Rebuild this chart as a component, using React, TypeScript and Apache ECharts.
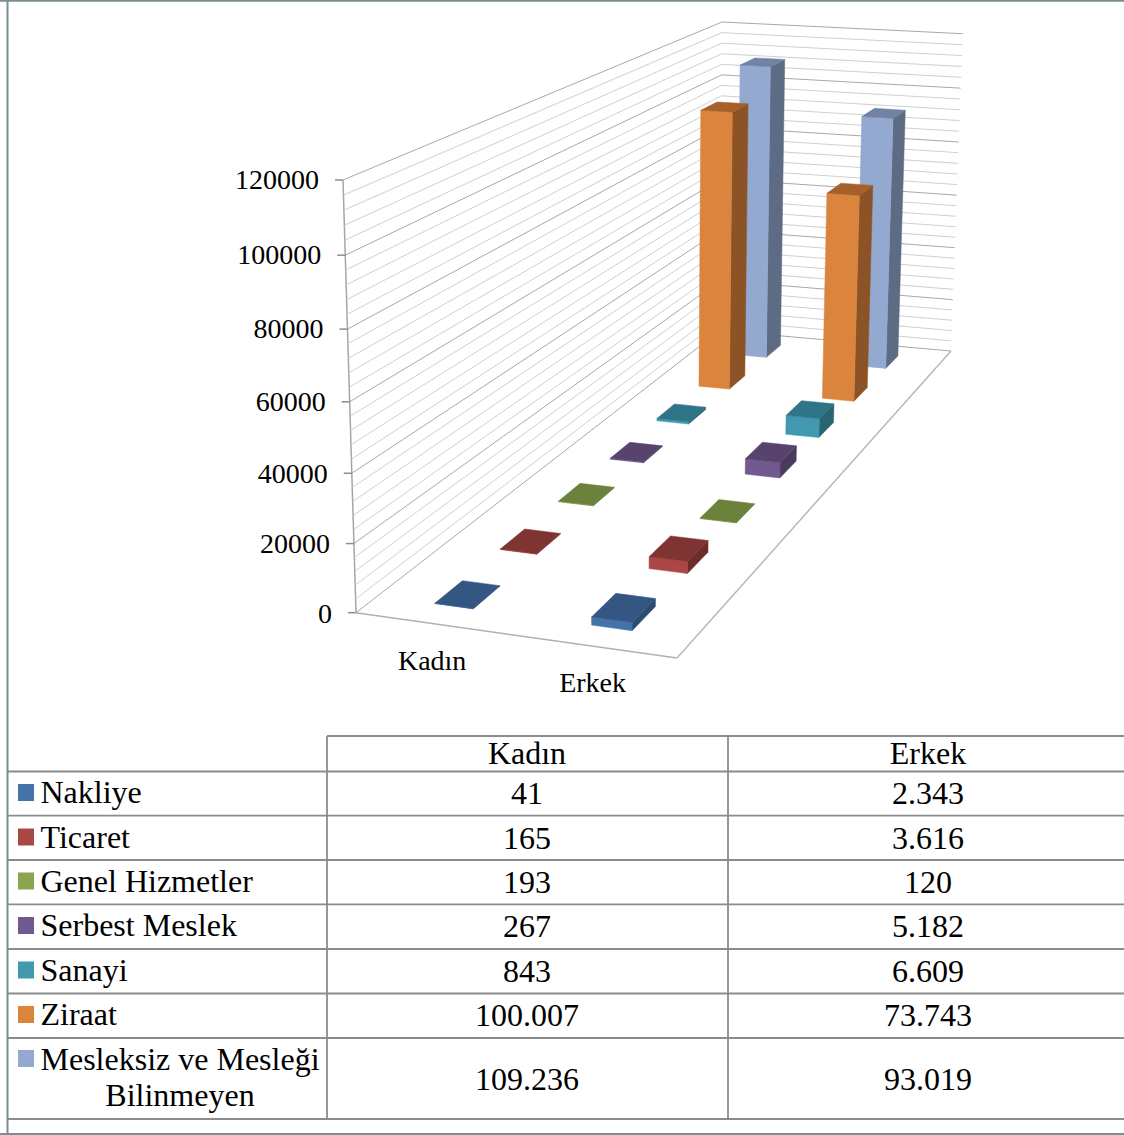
import React, { useEffect, useRef } from "react";
import * as echarts from "echarts";

const categories = ["Kadın", "Erkek"];
const seriesNames = ["Nakliye", "Ticaret", "Genel Hizmetler", "Serbest Meslek", "Sanayi", "Ziraat", "Mesleksiz ve Mesleği\nBilinmeyen"];
const kadinValues = [41, 165, 193, 267, 843, 100007, 109236];
const erkekValues = [2343, 3616, 120, 5182, 6609, 73743, 93019];
const yTickLabels = [0, 20000, 40000, 60000, 80000, 100000, 120000];

const frontColors = ["#4572A7", "#AA4643", "#89A54E", "#71588F", "#4198AF", "#DB843D", "#93A9CF"];
const topColors = ["#345682", "#803432", "#6C823A", "#58436F", "#2F7587", "#A6612B", "#7183A5"];
const sideColors = ["#2D4A70", "#6C2C2A", "#5C6F31", "#4A3A5F", "#296472", "#8C5426", "#5D6B85"];

const SERIF = '"Liberation Serif", "Times New Roman", serif';
const W = 1124;
const H = 1135;

// Perspective set-up: floor corners and top-of-wall corners in pixels
const F0: [number, number] = [356, 612.7];
const F1: [number, number] = [677, 658];
const F2: [number, number] = [951, 351];
const F3: [number, number] = [720, 330.5];
const T0: [number, number] = [343, 180];
const T1: [number, number] = [722, 22];
const T2: [number, number] = [962.7, 33.7];

function makeProjection() {
  const [x0, y0] = F0, [x1, y1] = F1, [x2, y2] = F2, [x3, y3] = F3;
  const dx1 = x1 - x2, dx2 = x3 - x2, dy1 = y1 - y2, dy2 = y3 - y2;
  const sx = x0 - x1 + x2 - x3, sy = y0 - y1 + y2 - y3;
  const den = dx1 * dy2 - dx2 * dy1;
  const g = (sx * dy2 - dx2 * sy) / den;
  const h = (dx1 * sy - sx * dy1) / den;
  const a = x1 - x0 + g * x1, b = x3 - x0 + h * x3;
  const d = y1 - y0 + g * y1, e = y3 - y0 + h * y3;
  const floor = (u: number, v: number) => [a * u + b * v + x0, d * u + e * v + y0, g * u + h * v + 1];
  let sAB = 0, sAA = 0;
  const add = (t: [number, number], u: number, v: number) => {
    const [X, Y, Wf] = floor(u, v);
    const A1 = t[0] - T0[0], B1 = X + T0[0] - x0 - t[0] * Wf;
    const A2 = t[1] - T0[1], B2 = Y + T0[1] - y0 - t[1] * Wf;
    sAB += A1 * B1 + A2 * B2;
    sAA += A1 * A1 + A2 * A2;
  };
  add(T1, 0, 1);
  add(T2, 1, 1);
  const K = sAB / sAA;
  const C = T0[0] * (1 + K) - x0;
  const Fz = T0[1] * (1 + K) - y0;
  const raw = (u: number, v: number, w: number): number[] => {
    const [X, Y, Wf] = floor(u, v);
    const q = Wf + K * w;
    return [(X + C * w) / q, (Y + Fz * w) / q];
  };
  // the residual at the two far top corners is spread over depth and height
  const r1 = raw(0, 1, 1), r2 = raw(1, 1, 1);
  const e1 = [T1[0] - r1[0], T1[1] - r1[1]];
  const e2 = [T2[0] - r2[0], T2[1] - r2[1]];
  return (u: number, v: number, w: number): number[] => {
    const p = raw(u, v, w);
    const k = v * w;
    return [p[0] + k * (e1[0] + (e2[0] - e1[0]) * u), p[1] + k * (e1[1] + (e2[1] - e1[1]) * u)];
  };
}
const project = makeProjection();

const BAR_U = 0.0625;
const BAR_V = 0.029;

const fmt = (n: number) => String(n).replace(/\B(?=(\d{3})+$)/g, ".");

function normalised(params: any, api: any, cat: number, value: number) {
  const cs = params.coordSys;
  const p = api.coord([cat, value]);
  return { u: (p[0] - cs.x) / cs.width, w: (cs.y + cs.height - p[1]) / cs.height };
}

function barRenderer(index: number) {
  return (params: any, api: any) => {
    const { u, w } = normalised(params, api, api.value(0), api.value(1));
    const vc = (index + 0.5) / seriesNames.length;
    const u0 = u - BAR_U, u1 = u + BAR_U;
    const v0 = vc - BAR_V, v1 = vc + BAR_V;
    const poly = (pts: number[][], fill: string) => ({
      type: "polygon",
      shape: { points: pts },
      style: { fill, stroke: fill, lineWidth: 0.5 },
    });
    return {
      type: "group",
      children: [
        poly([project(u1, v0, 0), project(u1, v1, 0), project(u1, v1, w), project(u1, v0, w)], sideColors[index]),
        poly([project(u0, v0, 0), project(u1, v0, 0), project(u1, v0, w), project(u0, v0, w)], frontColors[index]),
        poly([project(u0, v0, w), project(u1, v0, w), project(u1, v1, w), project(u0, v1, w)], topColors[index]),
      ],
    };
  };
}

const wallRenderer = (params: any, api: any) => {
  const value = api.value(1);
  const { w } = normalised(params, api, 0, value);
  const major = yTickLabels.includes(value);
  const color = major ? "#a8a8a8" : "#cfcfcf";
  const a = project(0, 0, w), b = project(0, 1, w), c = project(1, 1, w);
  const line = (p: number[], q: number[], stroke: string, lineWidth = 1) => ({
    type: "line",
    shape: { x1: p[0], y1: p[1], x2: q[0], y2: q[1] },
    style: { stroke, lineWidth },
  });
  const children: any[] = [line(a, b, color), line(b, c, color)];
  if (major) {
    children.push(line([a[0] - 8, a[1]], a, "#8c8c8c", 1.5));
    children.push({
      type: "text",
      style: {
        x: a[0] - 24,
        y: a[1] - 1 + (1 - w) * 1.6,
        text: String(value),
        fontSize: 28,
        fontFamily: SERIF,
        fill: "#000",
        align: "right",
        verticalAlign: "middle",
      },
    });
  }
  if (value === 0) {
    const t = project(0, 0, 1), fr = project(1, 0, 0), br = project(1, 1, 0);
    children.push(line(a, t, "#a6a6a6", 1.5));
    children.push(line(a, fr, "#b0b0b0", 1.5));
    children.push(line(fr, br, "#b8b8b8", 1.5));
  }
  return { type: "group", children };
};

const categoryRenderer = (params: any, api: any) => {
  const { u } = normalised(params, api, api.value(0), 0);
  const p = project(u, 0, 0);
  return {
    type: "text",
    style: {
      x: p[0] - 1,
      y: p[1] + 36.5,
      text: categories[api.value(0)],
      fontSize: 28,
      fontFamily: SERIF,
      fill: "#000",
      align: "center",
      verticalAlign: "middle",
    },
  };
};

function buildTable(): any[] {
  const LINE = "#8c8c8c";
  const hLines = [771.5, 815.7, 860, 904.3, 949, 993.5, 1038, 1119];
  const rowCentres = [793, 837.5, 881.5, 926, 970.5, 1015, 1079];
  const xCols = [527, 928];
  const els: any[] = [];
  const line = (x1: number, y1: number, x2: number, y2: number, stroke = LINE, lineWidth = 1.8) => ({
    type: "line",
    shape: { x1, y1, x2, y2 },
    style: { stroke, lineWidth },
  });
  const text = (x: number, y: number, t: string, align: string) => ({
    type: "text",
    style: { x, y, text: t, fontSize: 32, fontFamily: SERIF, fill: "#000", align, verticalAlign: "middle" },
  });
  // outer frame
  els.push(line(7.5, 0, 7.5, H, "#7b8d92", 2));
  els.push(line(0, 0.8, W, 0.8, "#7b8d92", 2));
  els.push(line(0, 1134, W, 1134, "#7b8d92", 2));
  // table rules
  els.push(line(327, 736, W, 736));
  hLines.forEach((y) => els.push(line(8, y, W, y)));
  els.push(line(327, 736, 327, 1119));
  els.push(line(728, 736, 728, 1119));
  // header
  categories.forEach((c, i) => els.push(text(xCols[i], 753, c, "center")));
  // rows
  seriesNames.forEach((name, i) => {
    const parts = name.split("\n");
    const y = parts.length > 1 ? 1059 : rowCentres[i];
    els.push({
      type: "rect",
      shape: { x: 18, y: y - 9, width: 16, height: 17 },
      style: { fill: frontColors[i] },
    });
    els.push(text(40.5, parts.length > 1 ? y : y - 0.7, parts[0], "left"));
    if (parts.length > 1) els.push(text(180, 1095, parts[1], "center"));
    els.push(text(xCols[0], rowCentres[i], fmt(kadinValues[i]), "center"));
    els.push(text(xCols[1], rowCentres[i], fmt(erkekValues[i]), "center"));
  });
  return els;
}

export default function App() {
  const ref = useRef<HTMLDivElement>(null);
  useEffect(() => {
    const chart = echarts.init(ref.current!, undefined, { renderer: "svg" });
    const yMax = yTickLabels[yTickLabels.length - 1];
    const minorStep = (yTickLabels[1] - yTickLabels[0]) / 5;
    const wallData: number[][] = [];
    for (let v = 0; v <= yMax; v += minorStep) wallData.push([0, v]);
    chart.setOption({
      animation: false,
      backgroundColor: "#ffffff",
      grid: { left: 0, right: 0, top: 0, bottom: 0 },
      xAxis: { type: "category", data: categories, show: false },
      yAxis: { type: "value", min: 0, max: yMax, interval: yTickLabels[1], show: false },
      graphic: { elements: buildTable() },
      series: [
        { type: "custom", name: "Duvar", z: 1, silent: true, clip: false, renderItem: wallRenderer, data: wallData, encode: { x: 0, y: 1 } },
        { type: "custom", name: "Kategori", z: 1, silent: true, clip: false, renderItem: categoryRenderer, data: categories.map((_, i) => [i, 0]), encode: { x: 0, y: 1 } },
        ...seriesNames.map((name, i) => ({
          type: "custom",
          name: name.replace("\n", " "),
          z: 20 - i,
          silent: true,
          clip: false,
          renderItem: barRenderer(i),
          data: [[0, kadinValues[i]], [1, erkekValues[i]]],
          encode: { x: 0, y: 1 },
        })),
      ],
    });
    return () => chart.dispose();
  }, []);
  return <div ref={ref} style={{ position: "absolute", left: 0, top: 0, width: W, height: H }} />;
}
